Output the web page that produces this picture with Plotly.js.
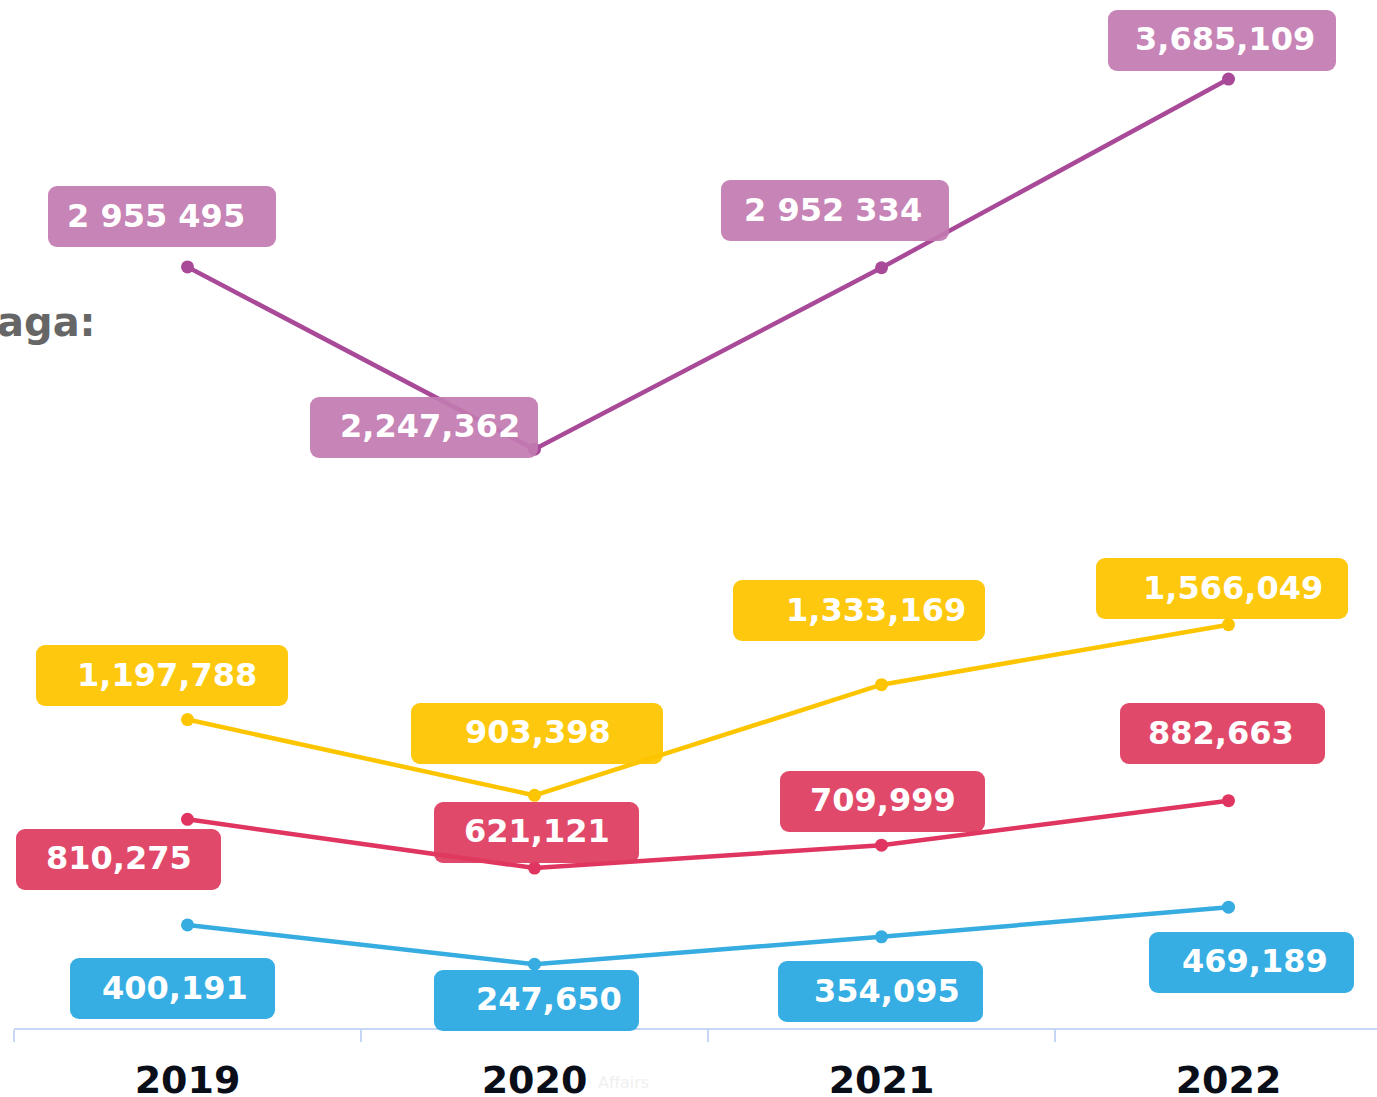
<!DOCTYPE html>
<html>
<head>
<meta charset="utf-8">
<script src="https://cdn.plot.ly/plotly-3.0.1.min.js"></script>
<style>
  html, body { margin: 0; padding: 0; background: #ffffff; overflow: hidden; width: 1377px; height: 1097px; }
  #chart { width: 1402px; height: 1097px; }
</style>
</head>
<body>
<div id="chart"></div>
<script>
// ---- data ----
const years = ["2019", "2020", "2021", "2022"];
const purpleValues = [2955495, 2247362, 2952334, 3685109];
const yellowValues = [1197788, 903398, 1333169, 1566049];
const redValues    = [810275, 621121, 709999, 882663];
const blueValues   = [400191, 247650, 354095, 469189];
const purpleLabels = ["2 955 495", "2,247,362", "2 952 334", "3,685,109"];
const yellowLabels = ["1,197,788", "903,398", "1,333,169", "1,566,049"];
const redLabels    = ["810,275", "621,121", "709,999", "882,663"];
const blueLabels   = ["400,191", "247,650", "354,095", "469,189"];

// ---- styling / label placement (pixels relative to the point) ----
const series = [
  { values: purpleValues, labels: purpleLabels, line: "#A94A99", box: "rgba(194,122,176,0.92)", boxW: 228,
    boxOff: [[-26, 50], [-111, 22], [-47, 57], [-7, 39]],
    textX: [-32, -105, -49, -4] },
  { values: yellowValues, labels: yellowLabels, line: "#FDC500", box: "rgba(253,197,0,0.95)", boxW: 252,
    boxOff: [[-26, 44], [2, 62], [-23, 74], [-7, 36]],
    textX: [-21, 3, -6, 4] },
  { values: redValues, labels: redLabels, line: "#DF3560", box: "rgba(222,58,94,0.92)", boxW: 205,
    boxOff: [[-69, -40], [2, 36], [1, 44], [-6, 67]],
    textX: [-69, 2, 1, -8] },
  { values: blueValues, labels: blueLabels, line: "#36ACE0", box: "rgba(48,170,226,0.97)", boxW: 205,
    boxOff: [[-15, -64], [2, -36], [-1, -55], [23, -55]],
    textX: [-13, 14, 5, 26] }
];

const FONT = "DejaVu Sans, Verdana, sans-serif";

const traces = series.map(s => ({
  type: "scatter",
  mode: "lines+markers",
  x: years,
  y: s.values,
  line: { color: s.line, width: 4.5 },
  marker: { color: s.line, size: 13 },
  hoverinfo: "skip",
  showlegend: false
}));

const annotations = [];
series.forEach(s => {
  s.values.forEach((v, i) => {
    annotations.push({
      x: i, y: v, xref: "x", yref: "y",
      showarrow: false, text: " ",
      width: s.boxW, height: 61, borderpad: 0, borderwidth: 0,
      bgcolor: s.box,
      xshift: s.boxOff[i][0], yshift: s.boxOff[i][1],
      xanchor: "center", yanchor: "middle"
    });
  });
});
series.forEach(s => {
  s.values.forEach((v, i) => {
    annotations.push({
      x: i, y: v, xref: "x", yref: "y",
      showarrow: false, text: "<b>" + s.labels[i] + "</b>",
      font: { family: FONT, size: 32, color: "#ffffff" },
      xshift: s.textX[i], yshift: s.boxOff[i][1] + 1,
      xanchor: "center", yanchor: "middle"
    });
  });
});
// partial text cut off at the left edge
annotations.push({
  xref: "paper", yref: "paper", x: 0.0607, y: 0.687,
  xanchor: "right", yanchor: "middle", showarrow: false,
  text: "<b>aga:</b>", font: { family: FONT, size: 40, color: "#666666" }
});
// faint watermark fragment
annotations.push({
  xref: "x", yref: "paper", x: 1, y: 0, xshift: 89, yshift: -54,
  xanchor: "center", yanchor: "middle", showarrow: false,
  text: "Affairs", font: { family: FONT, size: 16, color: "#f0f0f0" }
});

const layout = {
  width: 1402, height: 1097,
  margin: { l: 14, r: 0, t: 0, b: 69 },
  paper_bgcolor: "#ffffff", plot_bgcolor: "#ffffff",
  showlegend: false,
  xaxis: {
    type: "category", range: [-0.5, 3.5],
    showline: true, linecolor: "#C6D6F6", linewidth: 2,
    ticks: "outside", tickson: "boundaries", ticklen: 12, tickwidth: 2, tickcolor: "#C6D6F6",
    ticklabelstandoff: 17,
    showgrid: false, zeroline: false,
    tickfont: { family: FONT, size: 38, color: "#0a0e18", weight: 700 },
    fixedrange: true
  },
  yaxis: {
    range: [0, 3992000], showticklabels: false, showline: false, ticks: "", showgrid: false, zeroline: false, fixedrange: true
  },
  annotations: annotations
};

Plotly.newPlot("chart", traces, layout, { displayModeBar: false, staticPlot: true }).then(() => {
  document.querySelectorAll("#chart .annotation rect.bg").forEach(r => {
    r.setAttribute("rx", 9); r.setAttribute("ry", 9);
  });
});
</script>
</body>
</html>
